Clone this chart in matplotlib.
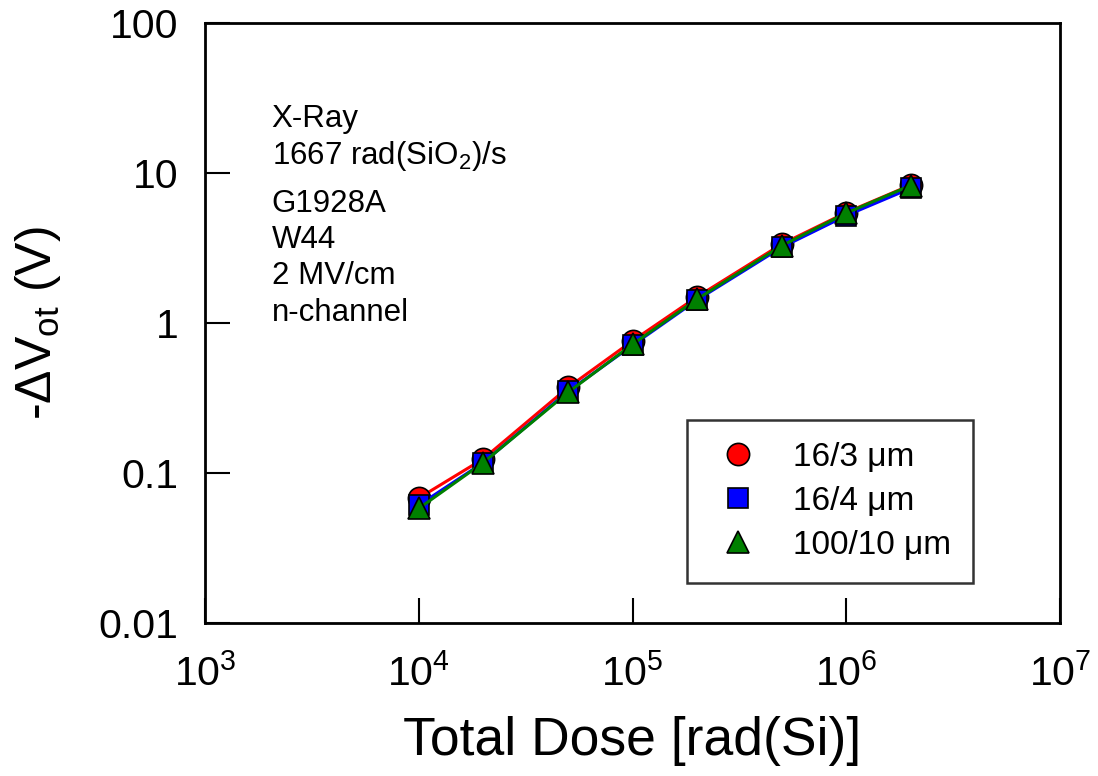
import numpy as np
import matplotlib
matplotlib.use('Agg')
import matplotlib.pyplot as plt

plt.rcParams['font.family'] = ['Liberation Sans', 'DejaVu Sans']
plt.rcParams['mathtext.fontset'] = 'custom'
plt.rcParams['mathtext.rm'] = 'Liberation Sans'
plt.rcParams['mathtext.it'] = 'Liberation Sans:italic'

# ── Dati ──────────────────────────────────────────────────────────────
dose = [1e4, 2e4, 5e4, 1e5, 2e5, 5e5, 1e6, 2e6]
dv_16_3 = [0.068, 0.124, 0.372, 0.76, 1.49, 3.36, 5.45, 8.3]
dv_16_4 = [0.061, 0.117, 0.350, 0.71, 1.42, 3.20, 5.20, 7.9]
dv_100_10 = [0.058, 0.117, 0.345, 0.72, 1.44, 3.28, 5.40, 8.25]
labels = ['16/3 \u03bcm', '16/4 \u03bcm', '100/10 \u03bcm']

fig = plt.figure(figsize=(10.98, 7.76), dpi=100)
ax = fig.add_axes([0.1867, 0.1972, 0.9654 - 0.1867, 0.9704 - 0.1972])

ax.plot(dose, dv_16_3, '-o', color='red', mfc='red', mec='black', mew=1.2,
        ms=16, lw=2.2, label=labels[0])
ax.plot(dose, dv_16_4, '-s', color='blue', mfc='blue', mec='black', mew=1.2,
        ms=14, lw=2.2, label=labels[1])
ax.plot(dose, dv_100_10, '-^', color='green', mfc='green', mec='black', mew=1.2,
        ms=16, lw=2.2, label=labels[2])

ax.set_xscale('log')
ax.set_yscale('log')
ax.set_xlim(1e3, 1e7)
ax.set_ylim(0.01, 100)
ax.set_xticks([1e3, 1e4, 1e5, 1e6, 1e7])
ax.set_xticklabels([r'$10^3$', r'$10^4$', r'$10^5$', r'$10^6$', r'$10^7$'])
ax.set_yticks([0.01, 0.1, 1, 10, 100])
ax.set_yticklabels(['0.01', '0.1', '1', '10', '100'])
ax.minorticks_off()
ax.tick_params(direction='in', length=18, width=1.5, labelsize=29.5,
               top=False, right=False)
ax.tick_params(axis='y', pad=19)
ax.tick_params(axis='x', pad=22)
for s in ax.spines.values():
    s.set_linewidth(2)

ax.set_xlabel('Total Dose [rad(Si)]', fontsize=38.5, labelpad=16)
ax.set_ylabel(r'-$\Delta$V$_{\rm ot}$ (V)', fontsize=36, labelpad=26)

ax.text(0.078, 0.865, 'X-Ray\n1667 rad(SiO$_2$)/s', transform=ax.transAxes,
        fontsize=22.5, va='top', linespacing=1.22)
ax.text(0.078, 0.724, 'G1928A\nW44\n2 MV/cm\nn-channel', transform=ax.transAxes,
        fontsize=22.5, va='top', linespacing=1.28)

leg = ax.legend(loc='lower right', bbox_to_anchor=(0.898, 0.067), fontsize=24,
                frameon=True, fancybox=False, edgecolor='black',
                borderpad=0.65, handletextpad=0.74, labelspacing=0.39,
                handlelength=1.8, borderaxespad=0)
leg.get_frame().set_linewidth(1.8)
for h in leg.legend_handles:
    h.set_linestyle('none')

plt.savefig('out.png', dpi=100)
